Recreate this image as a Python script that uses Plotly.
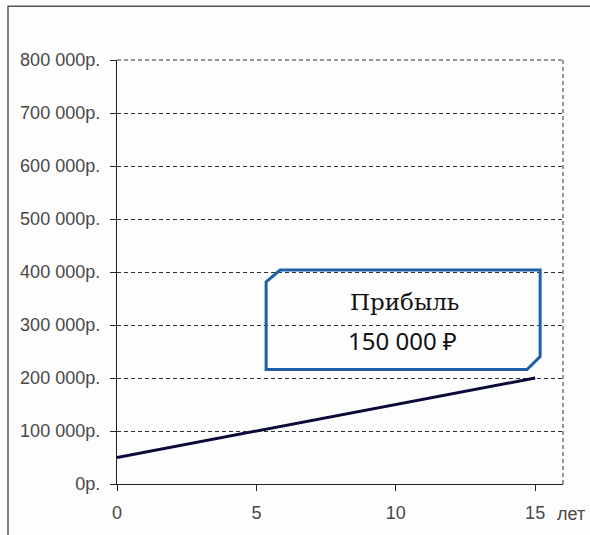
import plotly.graph_objects as go

years = [0, 1, 2, 3, 4, 5, 6, 7, 8, 9, 10, 11, 12, 13, 14, 15]
profit = [50000, 60000, 70000, 80000, 90000, 100000, 110000, 120000, 130000,
          140000, 150000, 160000, 170000, 180000, 190000, 200000]
y_ticks = [0, 100000, 200000, 300000, 400000, 500000, 600000, 700000, 800000]
y_tick_labels = ["0р.", "100 000р.", "200 000р.", "300 000р.", "400 000р.",
                 "500 000р.", "600 000р.", "700 000р.", "800 000р."]
x_ticks = [0, 5, 10, 15]
x_unit = "лет"
box_title = "Прибыль"
box_value = "150 000 ₽"

W, H = 590, 535
L, T, PW, PH = 117, 60, 446, 426

fig = go.Figure()
fig.add_trace(go.Scatter(
    x=years, y=profit, mode="lines",
    line=dict(color="#0b0b3b", width=3),
    hoverinfo="skip", showlegend=False,
))

tick_font = dict(family="Liberation Sans, Arial, sans-serif", size=18, color="#484848")

fig.update_layout(
    width=W, height=H,
    margin=dict(l=L, r=W - L - PW, t=T, b=H - T - PH),
    paper_bgcolor="#fdfdfd", plot_bgcolor="#fdfdfd",
    xaxis=dict(
        range=[0, 16], tickvals=x_ticks, ticktext=[str(v) for v in x_ticks],
        showgrid=False, zeroline=False, showline=True, linecolor="#222222",
        linewidth=1.2, ticks="outside", ticklen=6, tickcolor="#222222",
        tickfont=tick_font, ticklabelstandoff=6,
    ),
    yaxis=dict(
        range=[0, 800000], tickvals=y_ticks, ticktext=y_tick_labels,
        showgrid=True, gridcolor="#333333", gridwidth=1, griddash="4px,3px",
        zeroline=False, showline=True, linecolor="#222222", linewidth=1.2,
        ticks="outside", ticklen=6, tickcolor="#222222", tickfont=tick_font,
        ticklabelstandoff=6,
    ),
)


def px(fx):
    return (fx - L) / PW


def py(fy):
    return (T + PH - fy) / PH


shapes = [
    # right dashed border of plot area
    dict(type="line", xref="paper", yref="paper", x0=1, x1=1, y0=0, y1=1,
         line=dict(color="#333333", width=1, dash="4px,3px")),
    # top dashed border of plot area
    dict(type="line", xref="paper", yref="paper", x0=0, x1=1, y0=1, y1=1,
         line=dict(color="#333333", width=1, dash="4px,3px")),
    # outer frame
    dict(type="rect", xref="paper", yref="paper",
         x0=px(8), x1=px(W + 20), y0=py(H + 20), y1=py(6),
         line=dict(color="#555555", width=1.5), fillcolor="rgba(0,0,0,0)",
         layer="below"),
    # callout box with cut corners
    dict(type="path", xref="x", yref="y",
         path="M 5.85,403800 L 15.18,403800 L 15.18,240400 L 14.71,216000 "
              "L 5.35,216000 L 5.35,381200 Z",
         line=dict(color="#1f5fa6", width=3), fillcolor="rgba(0,0,0,0)"),
]
fig.update_layout(shapes=shapes)

fig.add_annotation(x=10.33, y=343700, xref="x", yref="y", text=box_title,
                   showarrow=False,
                   font=dict(family="DejaVu Serif, serif", size=23, color="#111111"))
fig.add_annotation(x=10.25, y=270500, xref="x", yref="y", text=box_value,
                   showarrow=False,
                   font=dict(family="Noto Sans, sans-serif", size=24, color="#111111"))
fig.add_annotation(x=px(555), y=py(516), xref="paper", yref="paper",
                   text=x_unit, showarrow=False, xanchor="left", yanchor="middle",
                   font=tick_font)

fig.write_html(
    "out.html",
    config={"displayModeBar": False, "staticPlot": True},
    post_script="document.body.style.margin='0';document.body.style.overflow='hidden';",
)
